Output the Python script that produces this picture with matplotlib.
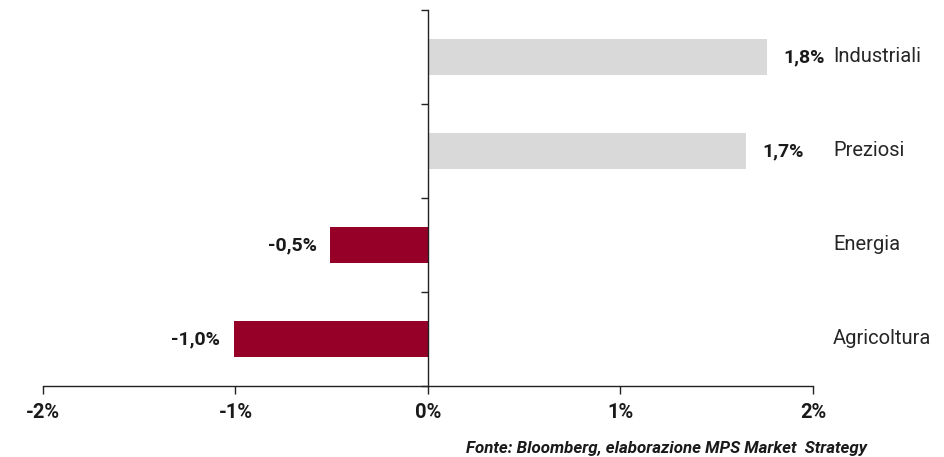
import matplotlib
matplotlib.use("Agg")
import matplotlib.pyplot as plt
from matplotlib.ticker import FuncFormatter

categories = ["Agricoltura", "Energia", "Preziosi", "Industriali"]
values = [-1.01, -0.51, 1.65, 1.76]
value_labels = ["-1,0%", "-0,5%", "1,7%", "1,8%"]
xticks = [-2, -1, 0, 1, 2]
source = "Fonte: Bloomberg, elaborazione MPS Market  Strategy"

plt.rcParams['font.family'] = ['Roboto', 'DejaVu Sans']

fig = plt.figure(figsize=(9.45, 4.57), dpi=100)
ax = fig.add_axes([43/945, 71/457, 770/945, 376/457])

colors = ["#960028" if v < 0 else "#d9d9d9" for v in values]
ypos = list(range(len(categories)))
ax.barh(ypos, values, height=0.39, color=colors, zorder=2)

ax.set_xlim(-2, 2)
ax.set_ylim(-0.5, 3.5)
ax.spines['top'].set_visible(False)
ax.spines['right'].set_visible(False)
ax.spines['left'].set_position(('data', 0))
ax.spines['left'].set_color('#222222')
ax.spines['bottom'].set_color('#222222')
ax.spines['left'].set_linewidth(1.0)
ax.spines['bottom'].set_linewidth(1.0)

ax.set_yticks([-0.5, 0.5, 1.5, 2.5, 3.5])
ax.set_yticklabels([])
ax.tick_params(axis='y', direction='out', length=5, color='#222222', width=1.0)

ax.set_xticks(xticks)
ax.xaxis.set_major_formatter(FuncFormatter(lambda v, p: f"{int(round(v))}%"))
ax.tick_params(axis='x', direction='out', length=6, color='#222222', width=1.0,
               labelsize=14.5, pad=6)
for lab in ax.get_xticklabels():
    lab.set_fontweight('bold')
    lab.set_color('#1a1a1a')

for y, v, lab in zip(ypos, values, value_labels):
    if v >= 0:
        ax.annotate(lab, (v, y), xytext=(12, 0), textcoords='offset points',
                    ha='left', va='center', fontsize=14, fontweight='bold',
                    color='#1a1a1a')
    else:
        ax.annotate(lab, (v, y), xytext=(-9.5, 0), textcoords='offset points',
                    ha='right', va='center', fontsize=14, fontweight='bold',
                    color='#1a1a1a')

for y, c in zip(ypos, categories):
    ax.text(2.104, y, c, ha='left', va='center', fontsize=14.5, color='#262626',
            clip_on=False)

fig.text(867/945, 1 - 448/457, source, ha='right', va='center', fontsize=12.2,
         fontweight='bold', fontstyle='italic', color='#1a1a1a')

fig.savefig("out.png", dpi=100)
